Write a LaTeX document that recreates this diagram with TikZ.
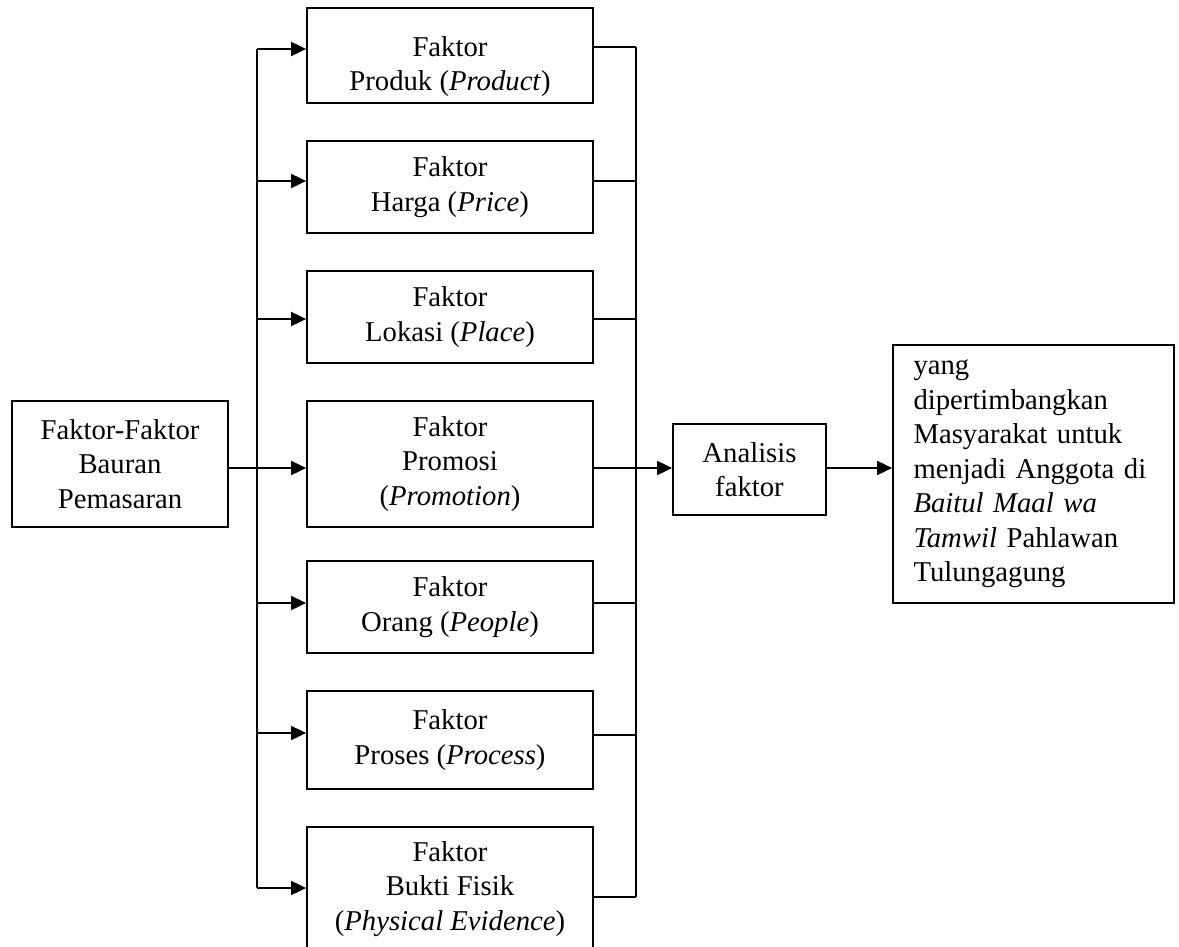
\documentclass[tikz,border=0pt]{standalone}
\usepackage{fontspec}
\setmainfont{Liberation Serif}
\usetikzlibrary{arrows.meta}
\begin{document}
\begin{tikzpicture}[x=1pt,y=-1pt,
  box/.style={draw, line width=1.8pt, align=center, inner sep=0pt,
    font=\fontsize{28.7}{34.5}\selectfont},
  conn/.style={line width=1.9pt},
  arr/.style={line width=1.9pt, -{Triangle[length=15pt,width=14pt]}}]
\clip (0,0) rectangle (1179,946);
\useasboundingbox (0,0) rectangle (1179,946);
% left box
\node[box, minimum width=216pt, minimum height=126pt] (src) at (120,464)
  {Faktor-Faktor\\Bauran\\Pemasaran};
% middle boxes
\node[box, minimum width=286pt, minimum height=95pt] (p1) at (450,55.5)
  {\rule{0pt}{42pt}Faktor\\Produk (\textit{Product})};
\node[box, minimum width=286pt, minimum height=92pt] (p2) at (450,187)
  {Faktor\\Harga (\textit{Price})};
\node[box, minimum width=286pt, minimum height=92pt] (p3) at (450,317)
  {Faktor\\Lokasi (\textit{Place})};
\node[box, minimum width=286pt, minimum height=126pt] (p4) at (450,464)
  {Faktor\\Promosi\\(\textit{Promotion})};
\node[box, minimum width=286pt, minimum height=92pt] (p5) at (450,607)
  {Faktor\\Orang (\textit{People})};
\node[box, minimum width=286pt, minimum height=98pt] (p6) at (450,740)
  {Faktor\\Proses (\textit{Process})};
\node[box, minimum width=286pt, minimum height=124pt] (p7) at (450,889)
  {Faktor\\Bukti Fisik\\(\textit{Physical Evidence})};
% analysis box
\node[box, minimum width=153pt, minimum height=91pt] (an) at (749.5,469.5)
  {Analisis\\faktor};
% result box
\node[box, minimum width=281pt, minimum height=258pt, text width=240pt,
  inner xsep=20.5pt, align=left] (res) at (1033.5,474)
  {yang\\dipertimbangkan\\Masyarakat untuk\\menjadi Anggota di\\\textit{Baitul Maal wa}\\\textit{Tamwil} Pahlawan\\Tulungagung};
% trunk coordinates
\coordinate (l1) at (257,49);
\coordinate (l2) at (257,181);
\coordinate (l3) at (257,319);
\coordinate (l5) at (257,603);
\coordinate (l6) at (257,733);
\coordinate (l7) at (257,888);
\coordinate (r1) at (636,47);
\coordinate (r2) at (636,181);
\coordinate (r3) at (636,319);
\coordinate (r4) at (636,468);
\coordinate (r5) at (636,603);
\coordinate (r6) at (636,735);
\coordinate (r7) at (636,897);
\coordinate (s4) at (228,468);
% left trunk
\draw[conn] (l1) -- (l7);
\draw[arr] (l1) -- (p1.west |- l1);
\draw[arr] (l2) -- (p2.west |- l2);
\draw[arr] (l3) -- (p3.west |- l3);
\draw[arr] (s4) -- (p4.west |- s4);
\draw[arr] (l5) -- (p5.west |- l5);
\draw[arr] (l6) -- (p6.west |- l6);
\draw[arr] (l7) -- (p7.west |- l7);
% right trunk
\draw[conn] (r1) -- (r7);
\draw[conn] (p1.east |- r1) -- (r1);
\draw[conn] (p2.east |- r2) -- (r2);
\draw[conn] (p3.east |- r3) -- (r3);
\draw[conn] (p4.east |- r4) -- (r4);
\draw[conn] (p5.east |- r5) -- (r5);
\draw[conn] (p6.east |- r6) -- (r6);
\draw[conn] (p7.east |- r7) -- (r7);
\draw[arr] (r4) -- (an.west |- r4);
\draw[arr] (an.east |- r4) -- (res.west |- r4);
\end{tikzpicture}
\end{document}
